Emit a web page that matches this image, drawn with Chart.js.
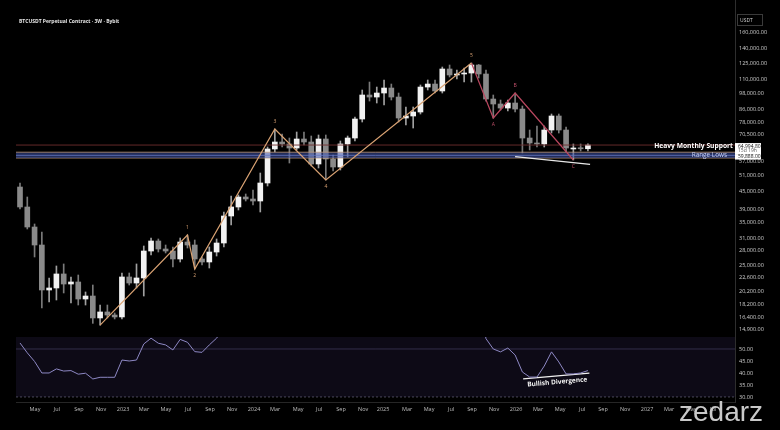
<!DOCTYPE html>
<html>
<head>
<meta charset="utf-8">
<script src="https://cdn.jsdelivr.net/npm/chart.js@4.4.1/dist/chart.umd.min.js"></script>
<style>
  html, body { margin: 0; padding: 0; background: #000; }
  #wrap { position: relative; width: 780px; height: 430px; overflow: hidden; background: #000; }
  #price { position: absolute; left: 0; top: 0; }
  #rsi { position: absolute; left: 0; top: 337px; }
  #glow { position: absolute; left: 730px; top: 40px; width: 100px; height: 260px; pointer-events: none;
          background: radial-gradient(ellipse 40px 110px at 100% 45%, rgba(255,255,255,0.16), rgba(255,255,255,0) 100%); }
  #title { position: absolute; left: 19px; top: 18px; color: #e6e6e6; font: bold 5px 'Open Sans', sans-serif; white-space: nowrap; }
  #mark { position: absolute; left: 679px; top: 398px; color: #c9c9c9; font: 28px 'Liberation Sans', Arial, sans-serif; line-height: 1; }
</style>
</head>
<body>
<div id="wrap">
  <canvas id="price" width="780" height="337"></canvas>
  <canvas id="rsi" width="780" height="93"></canvas>
  <div id="glow"></div>
  <div id="title">BTCUSDT Perpetual Contract · 3W · Bybit</div>
  <div id="mark">zedarz</div>
</div>
<script>
// ─── Candles (3W) ────────────────────────────────────────────────────────────
const candleOpen = [
  46530, 39680, 33830, 29310, 20480, 20810, 23270, 21480, 21830, 19060,
  19520, 16390, 17190, 16780, 16520, 22720, 21650, 22540, 27940, 30260,
  28390, 27940, 26220, 30020, 29310, 26220, 25600, 27720, 29780, 36930,
  39680, 42970, 42290, 41620, 48040, 62990, 66600, 65550, 63490, 68210,
  66600, 55890, 68210, 58160, 54570, 65550, 68750, 79990, 96850, 95300,
  98400, 102400, 95300, 80630, 81930, 84580, 103200, 105700, 100000, 119150,
  113600, 114500, 115400, 123000, 114500, 93800, 90150, 87300, 90870, 86600,
  68750, 66070, 65550, 73280, 81930, 73280, 62990, 63490, 63100
];
const candleHigh = [
  48040, 42970, 34650, 32510, 22540, 24800, 25200, 22720, 23080, 20160,
  21310, 18170, 18170, 17050, 23450, 23450, 25200, 29080, 30990, 30750,
  29310, 28850, 30990, 31740, 30500, 26640, 28850, 30750, 38130, 43310,
  43660, 44010, 45430, 52020, 64000, 73870, 70980, 68750, 72120, 72120,
  69860, 70420, 70420, 60050, 67130, 69860, 81280, 100800, 107400, 103200,
  109150, 105700, 98400, 88020, 88020, 104900, 109150, 109150, 121060, 123000,
  118200, 120100, 124980, 123500, 118200, 96850, 93070, 93070, 98400, 88720,
  73280, 75650, 75650, 83240, 83240, 75050, 65550, 65550, 65600
];
const candleLow = [
  39050, 33300, 26640, 17740, 18610, 18910, 20000, 18470, 18170, 18170,
  15700, 15480, 16390, 16260, 16260, 21310, 20810, 19520, 27070, 27720,
  27500, 24600, 25600, 28620, 24210, 25000, 24400, 26850, 28850, 34380,
  38740, 41620, 40310, 38130, 46900, 61500, 64000, 56340, 62490, 65030,
  55010, 54140, 49200, 52860, 53280, 59100, 67130, 78100, 92300, 90870,
  89430, 93070, 78100, 76260, 74460, 83240, 100800, 98400, 98400, 111800,
  110000, 107400, 107400, 110900, 92300, 80630, 85940, 85250, 84580, 61010,
  62490, 64000, 64000, 71550, 71550, 61500, 57700, 61990, 62000
];
const candleClose = [
  39680, 33830, 29310, 20480, 20810, 23270, 21480, 21830, 19060, 19520,
  16390, 17190, 16780, 16520, 22720, 21650, 22540, 27940, 30260, 28390,
  27940, 26220, 30020, 29310, 26220, 25600, 27720, 29780, 36930, 39680,
  42970, 42290, 41620, 48040, 62990, 66600, 65550, 63490, 68210, 66600,
  55890, 68210, 58160, 54570, 65550, 68750, 79990, 96850, 95300, 98400,
  102400, 95300, 80630, 81930, 84580, 103200, 105700, 100000, 119150, 113600,
  114500, 115400, 123000, 114500, 93800, 90150, 87300, 90870, 86600, 68750,
  66070, 65550, 73280, 81930, 73280, 63490, 63490, 63100, 64994.8
];
// RSI per candle (values above 55 are out of the visible pane)
const rsiValues = [
  52.5, 48.4, 44.8, 40.0, 40.0, 41.7, 40.8, 41.0, 39.5, 39.9,
  37.5, 38.2, 38.2, 38.2, 45.4, 45.0, 45.4, 52.1, 54.5, 52.4,
  51.7, 49.6, 54.0, 52.8, 48.9, 48.6, 51.7, 54.5, 58.5, 63,
  66, 68, 67, 66, 71, 77, 79, 77, 74, 75,
  73, 62, 69, 61, 58, 65, 67, 73, 79, 78,
  78, 79, 74, 63, 64, 66, 72, 73, 70, 75,
  72, 72, 73, 70, 54.3, 50.0, 48.8, 50.4, 47.5, 40.4,
  38.3, 38.3, 42.9, 48.8, 44.6, 39.6, 39.6, 40.0, 41.0
];

// ─── Drawings ────────────────────────────────────────────────────────────────
const waveIdx   = [11, 23, 24, 35, 42, 62];
const wavePrice = [15480, 31740, 24210, 73870, 49200, 124980];
const waveNames = ['', '1', '2', '3', '4', '5'];
const abcIdx    = [62, 65, 68, 76];
const abcPrice  = [124980, 80630, 98400, 57700];
const abcNames  = ['', 'A', 'B', 'C'];
const divPriceIdx = [68, 78.3];
const divPrice    = [59300, 55700];
const divRsiIdx   = [69.1, 78.2];
const divRsi      = [37.5, 39.9];

const supportTop    = 61400;
const supportBottom = 58600;
const rangeLow      = 59888;
const lastPrice     = candleClose[candleClose.length - 1];

// ─── Axes ────────────────────────────────────────────────────────────────────
const priceTicks = [160000, 140000, 125000, 110000, 98000, 86000, 78000, 70500, 57000, 51000,
                    45000, 39000, 35000, 31000, 28000, 25000, 22600, 20200, 18200, 16400, 14900];
const rsiTicks   = [30, 35, 40, 45, 50];
const timeTickPos = [2.06, 5.08, 8.1, 11.13, 14.15, 17.03, 20.05, 23.08, 26.1, 29.12, 32.14,
                     35.03, 38.19, 41.07, 44.09, 47.12, 49.86, 53.16, 56.18, 59.2, 62.09, 65.11,
                     68.13, 71.15, 74.18, 77.2, 80.08, 83.1, 86.13, 89.15, 92.17, 95.19];
const timeTickLabels = ['May', 'Jul', 'Sep', 'Nov', '2023', 'Mar', 'May', 'Jul', 'Sep', 'Nov', '2024',
                        'Mar', 'May', 'Jul', 'Sep', 'Nov', '2025', 'Mar', 'May', 'Jul', 'Sep', 'Nov',
                        '2026', 'Mar', 'May', 'Jul', 'Sep', 'Nov', '2027', 'Mar', 'May', 'Jul'];
const xMin = -0.55, xMax = 98.2;

Chart.defaults.font.family = "'Open Sans', sans-serif";
Chart.defaults.color = '#c8c8c8';
Chart.defaults.animation = false;
Chart.defaults.plugins.legend.display = false;
Chart.defaults.plugins.tooltip.enabled = false;

const fmtPrice = v => Number(v).toLocaleString('en-US', { minimumFractionDigits: 2, maximumFractionDigits: 2 });
const hLine = y => [{ x: xMin, y }, { x: xMax, y }];
const fixRightAxis = axis => { axis.width = 45; axis.paddingTop = 0; axis.paddingBottom = 0; };
const noGrid = { display: false, drawTicks: false, tickLength: 0 };

const upColor = '#f2f2f2', downColor = '#8a8a8a';
const candleIdx = candleOpen.map((_, i) => i);
const bodyColors = candleIdx.map(i => candleClose[i] >= candleOpen[i] ? upColor : downColor);
const wickColors = candleIdx.map(i => candleClose[i] >= candleOpen[i] ? '#a0a0a0' : '#7a7a7a');

// ─── Plugin: labels and axis boxes on the price pane ─────────────────────────
const priceLabels = {
    id: 'priceLabels',
    afterDraw(chart) {
        const { ctx, scales: { x, y }, chartArea } = chart;
        ctx.save();
        ctx.textAlign = 'center';
        ctx.textBaseline = 'middle';
        ctx.font = "5px 'Open Sans', sans-serif";
        const pivotText = (idx, price, names, color) => {
            idx.forEach((v, i) => {
                if (!names[i]) return;
                const prev = price[i - 1], next = price[i + 1];
                const isHigh = (prev === undefined || price[i] > prev) && (next === undefined || price[i] > next);
                ctx.fillStyle = color;
                ctx.fillText(names[i], x.getPixelForValue(v), y.getPixelForValue(price[i]) + (isHigh ? -7 : 7));
            });
        };
        pivotText(waveIdx, wavePrice, waveNames, '#d9a273');
        pivotText(abcIdx, abcPrice, abcNames, '#c0506a');

        // level texts
        ctx.textAlign = 'right';
        ctx.fillStyle = '#ffffff';
        ctx.font = "bold 6.7px 'Open Sans', sans-serif";
        ctx.fillText('Heavy Monthly Support', chartArea.right - 2, y.getPixelForValue(supportTop) - 6);
        ctx.fillStyle = '#c9d0f2';
        ctx.font = "6.4px 'Open Sans', sans-serif";
        ctx.fillText('Range Lows', chartArea.right - 8, y.getPixelForValue(rangeLow) - 0.5);

        // axis boxes
        const ax = chartArea.right;
        const yl = y.getPixelForValue(lastPrice);
        ctx.fillStyle = '#ffffff';
        ctx.fillRect(ax, yl - 2, 26, 11);
        ctx.fillRect(ax, yl + 9, 26, 5.5);
        ctx.textAlign = 'left';
        ctx.font = "5px 'Open Sans', sans-serif";
        ctx.fillStyle = '#111';
        ctx.fillText(fmtPrice(lastPrice), ax + 3, yl + 1.2);
        ctx.fillStyle = '#555';
        ctx.fillText('15d 19h', ax + 3, yl + 6);
        ctx.fillStyle = '#111';
        ctx.fillText(fmtPrice(rangeLow), ax + 3, yl + 11.8);

        // unit box
        ctx.strokeStyle = '#3a3a3a';
        ctx.lineWidth = 1;
        ctx.strokeRect(ax + 2.5, 14.5, 25, 11);
        ctx.fillStyle = '#cfcfcf';
        ctx.fillText('USDT', ax + 5, 20.5);
        ctx.restore();
    }
};

new Chart(document.getElementById('price'), {
    type: 'bar',
    data: {
        datasets: [
            { type: 'line', data: waveIdx.map((v, i) => ({ x: v, y: wavePrice[i] })),
              borderColor: '#d9a273', borderWidth: 1.2, pointRadius: 0, order: 0 },
            { type: 'line', data: abcIdx.map((v, i) => ({ x: v, y: abcPrice[i] })),
              borderColor: '#b9475f', borderWidth: 1.2, pointRadius: 0, order: 0 },
            { type: 'line', data: divPriceIdx.map((v, i) => ({ x: v, y: divPrice[i] })),
              borderColor: '#e8e8e8', borderWidth: 1.3, pointRadius: 0, order: 1 },
            { type: 'line', data: hLine(supportTop), borderColor: 'rgba(200,160,125,0.75)', borderWidth: 1,
              pointRadius: 0, fill: '+1', backgroundColor: 'rgba(62,82,165,0.55)', order: 2 },
            { type: 'line', data: hLine(supportBottom), borderColor: 'rgba(200,160,125,0.75)', borderWidth: 1,
              pointRadius: 0, order: 2 },
            { type: 'line', data: hLine(rangeLow), borderColor: 'rgba(150,165,230,0.8)', borderWidth: 1,
              pointRadius: 0, order: 2 },
            { type: 'line', data: hLine(lastPrice), borderColor: 'rgba(110,45,45,0.9)', borderWidth: 1,
              pointRadius: 0, order: 3 },
            { data: candleIdx.map(i => ({ x: i, y: [candleOpen[i], candleClose[i]] })),
              backgroundColor: bodyColors, barThickness: 5, minBarLength: 1, grouped: false, order: 4 },
            { data: candleIdx.map(i => ({ x: i, y: [candleLow[i], candleHigh[i]] })),
              backgroundColor: wickColors, barThickness: 1, grouped: false, order: 5 }
        ]
    },
    options: {
        responsive: false,
        layout: { padding: { left: 16, top: 0, right: 0, bottom: 0 } },
        scales: {
            x: { type: 'linear', min: xMin, max: xMax, offset: false, display: false },
            y: {
                type: 'logarithmic', position: 'right', min: 14082, max: 206480, beginAtZero: false,
                grid: noGrid,
                border: { display: true, color: '#2e2e2e' },
                afterBuildTicks: axis => { axis.ticks = priceTicks.map(v => ({ value: v })); },
                afterFit: fixRightAxis,
                ticks: { autoSkip: false, padding: 4, color: '#cfcfcf', font: { size: 5.5 }, callback: v => fmtPrice(v) }
            }
        }
    },
    plugins: [priceLabels]
});

// ─── RSI pane ────────────────────────────────────────────────────────────────
const rsiLabels = {
    id: 'rsiLabels',
    afterDraw(chart) {
        const { ctx, scales: { x, y } } = chart;
        const x0 = x.getPixelForValue(divRsiIdx[0]), y0 = y.getPixelForValue(divRsi[0]);
        const x1 = x.getPixelForValue(divRsiIdx[1]), y1 = y.getPixelForValue(divRsi[1]);
        ctx.save();
        ctx.translate((x0 + x1) / 2 + 1, (y0 + y1) / 2 + 6);
        ctx.rotate(Math.atan2(y1 - y0, x1 - x0));
        ctx.fillStyle = '#f2f2f2';
        ctx.font = "bold 6.5px 'Open Sans', sans-serif";
        ctx.textAlign = 'center';
        ctx.textBaseline = 'middle';
        ctx.fillText('Bullish Divergence', 0, 0);
        ctx.restore();
    }
};

new Chart(document.getElementById('rsi'), {
    type: 'line',
    data: {
        datasets: [
            { data: rsiValues.map((v, i) => ({ x: i, y: v })), borderColor: '#8d88c4', borderWidth: 1,
              pointRadius: 0, order: 0 },
            { data: divRsiIdx.map((v, i) => ({ x: v, y: divRsi[i] })), borderColor: '#f0f0f0', borderWidth: 1.3,
              pointRadius: 0, order: 1 },
            { data: hLine(50), borderColor: 'rgba(140,130,195,0.3)', borderWidth: 1, pointRadius: 0, order: 2 },
            { data: hLine(70), borderColor: 'rgba(0,0,0,0)', borderWidth: 0, pointRadius: 0,
              fill: '+1', backgroundColor: 'rgba(120,90,200,0.11)', order: 3 },
            { data: hLine(30), borderColor: 'rgba(130,130,150,0.55)', borderWidth: 1, borderDash: [2, 2],
              pointRadius: 0, order: 3 }
        ]
    },
    options: {
        responsive: false,
        layout: { padding: { left: 16, top: 0, right: 0, bottom: 15 } },
        scales: {
            x: {
                type: 'linear', min: xMin, max: xMax, offset: false,
                grid: noGrid,
                border: { display: true, color: '#262626' },
                afterBuildTicks: axis => { axis.ticks = timeTickPos.map(v => ({ value: v })); },
                afterFit: axis => { axis.height = 13; axis.paddingLeft = 0; axis.paddingRight = 0; },
                ticks: { autoSkip: false, maxRotation: 0, padding: 4, color: '#bdbdbd', font: { size: 5.5 },
                         callback: (v, i) => timeTickLabels[i] }
            },
            y: {
                position: 'right', min: 27.9, max: 55,
                grid: noGrid,
                border: { display: true, color: '#2e2e2e' },
                afterBuildTicks: axis => { axis.ticks = rsiTicks.map(v => ({ value: v })); },
                afterFit: fixRightAxis,
                ticks: { autoSkip: false, padding: 4, color: '#cfcfcf', font: { size: 5.5 }, callback: v => v.toFixed(2) }
            }
        }
    },
    plugins: [rsiLabels]
});
</script>
</body>
</html>
